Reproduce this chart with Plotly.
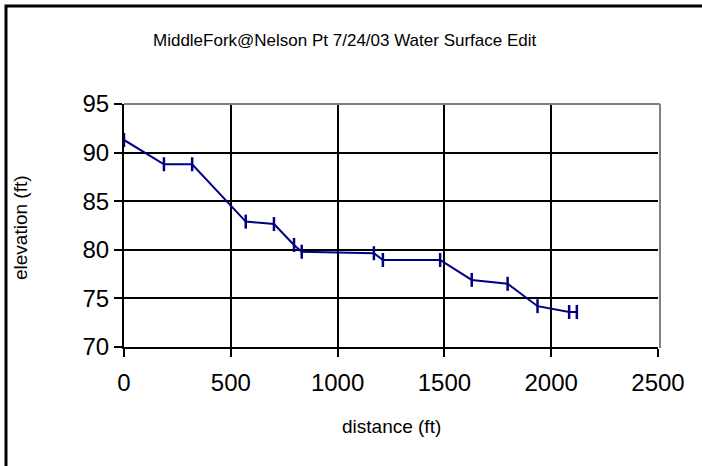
import plotly.graph_objects as go

# station distance (ft) and water surface elevation (ft)
distance = [0, 187, 319, 570, 702, 796, 832, 1170, 1212, 1480, 1628, 1796, 1936, 2084, 2120]
elevation = [91.3, 88.8, 88.8, 82.9, 82.65, 80.5, 79.8, 79.65, 78.95, 78.95, 76.9, 76.5, 74.2, 73.6, 73.6]

x_ticks = [0, 500, 1000, 1500, 2000, 2500]
y_ticks = [70, 75, 80, 85, 90, 95]

NAVY = "#000080"
FONT = "Liberation Sans, Arial, sans-serif"

# plot area in page pixels
L, R, T, B = 124, 658, 104, 347
W, H = 702, 466


def px_x(p):
    return (p - L) / (R - L)


def px_y(p):
    return (B - p) / (B - T)


fig = go.Figure()

fig.add_trace(go.Scatter(
    x=distance,
    y=elevation,
    mode="lines+markers",
    line=dict(color=NAVY, width=2),
    marker=dict(symbol="line-ns", size=10, line=dict(color=NAVY, width=2.5)),
    showlegend=False,
))

fig.update_xaxes(
    range=[0, 2500],
    tickvals=x_ticks,
    showgrid=True, gridcolor="black", gridwidth=2,
    showline=True, linecolor="black", linewidth=2,
    ticks="outside", ticklen=8, tickwidth=2, tickcolor="black",
    ticklabelstandoff=5,
    tickfont=dict(family=FONT, size=24, color="black"),
    zeroline=False,
)
fig.update_yaxes(
    range=[70, 95],
    tickvals=y_ticks,
    showgrid=True, gridcolor="black", gridwidth=2,
    showline=True, linecolor="black", linewidth=2,
    ticks="outside", ticklen=8, tickwidth=2, tickcolor="black",
    tickfont=dict(family=FONT, size=24, color="black"),
    zeroline=False,
)

fig.update_layout(
    width=W,
    height=H,
    plot_bgcolor="white",
    paper_bgcolor="white",
    margin=dict(l=L, r=W - R, t=T, b=H - B),
    font=dict(family=FONT, color="black"),
    shapes=[
        # gray plot frame on top and right
        dict(type="line", xref="paper", yref="paper", x0=0, x1=px_x(R + 2), y0=1, y1=1,
             line=dict(color="#808080", width=2)),
        dict(type="line", xref="paper", yref="paper", x0=px_x(R + 2), x1=px_x(R + 2), y0=1, y1=px_y(B + 1),
             line=dict(color="#808080", width=2)),
        # outer chart border (right and bottom fall outside the picture)
        dict(type="rect", xref="paper", yref="paper",
             x0=px_x(6), x1=px_x(W + 10), y0=px_y(6), y1=px_y(H + 10),
             line=dict(color="black", width=3)),
    ],
)

# Title
fig.add_annotation(
    text="MiddleFork@Nelson Pt 7/24/03 Water Surface Edit",
    x=px_x(345), y=px_y(41), xref="paper", yref="paper",
    xanchor="center", yanchor="middle",
    showarrow=False, font=dict(family=FONT, size=17, color="black"),
)

# Axis titles
fig.add_annotation(
    text="distance (ft)",
    x=px_x(391), y=px_y(426), xref="paper", yref="paper",
    xanchor="center", yanchor="middle",
    showarrow=False, font=dict(family=FONT, size=19, color="black"),
)
fig.add_annotation(
    text="elevation (ft)",
    x=px_x(20), y=px_y(228), xref="paper", yref="paper",
    xanchor="center", yanchor="middle",
    showarrow=False, textangle=-90, font=dict(family=FONT, size=19, color="black"),
)

fig.write_html(
    "out.html",
    config={"displayModeBar": False},
    post_script="document.body.style.margin='0';",
)
